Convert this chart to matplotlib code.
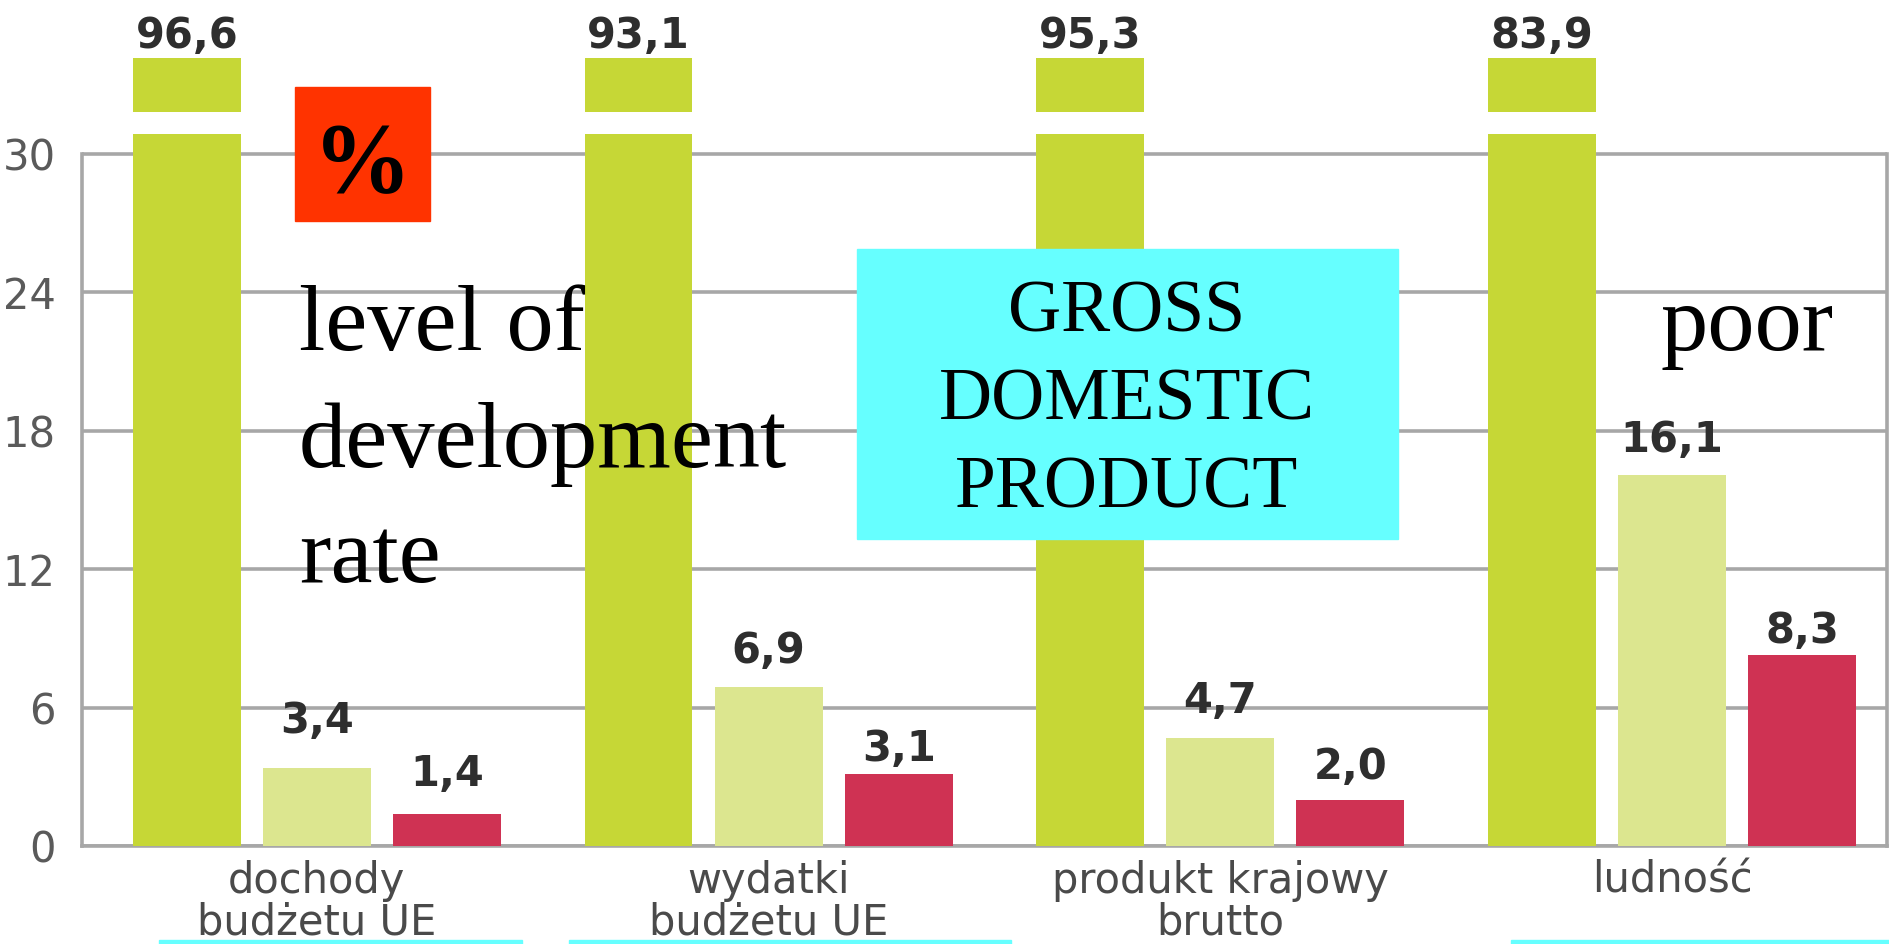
import matplotlib
matplotlib.use("Agg")
import matplotlib.pyplot as plt
from matplotlib.patches import Rectangle
import numpy as np

categoryLabels = ["dochody\nbudżetu UE", "wydatki\nbudżetu UE", "produkt krajowy\nbrutto", "ludność"]
greenValues = [96.6, 93.1, 95.3, 83.9]
lightValues = [3.4, 6.9, 4.7, 16.1]
redValues = [1.4, 3.1, 2.0, 8.3]
yTicks = [0, 6, 12, 18, 24, 30]

# gap (points) between bar top and label baseline, as placed in the original
lightGaps = [25, 17, 18, 16]
redGaps = [20, 10, 15, 8]

# where the tall bars are cut (axis units)
breakBottom = 30.86
breakTop = 31.82
capTop = 34.16

greenColor = "#c6d736"
lightColor = "#dce68f"
redColor = "#cf3253"
gridColor = "#a7a7a7"
labelColor = "#2e2e2e"

W, H = 1890, 944
fig = plt.figure(figsize=(W / 100, H / 100), dpi=100)
ax = fig.add_axes([82 / W, 98 / H, 1805 / W, 846 / H])
ax.set_xlim(-0.52, 3.476)
ax.set_ylim(0, 36.67)

positions = np.arange(len(categoryLabels))
barStep = 0.288
barWidth = 0.239


def fmt(value):
    return f"{value:.1f}".replace(".", ",")


def valueLabel(x, v, gap):
    ax.annotate(fmt(v), (x, v), xytext=(0, gap), textcoords="offset points",
                ha="center", va="baseline", fontsize=30, fontweight="bold", color=labelColor)


# green bars, drawn with a break
lowHeights = [min(v, breakBottom) for v in greenValues]
ax.bar(positions - barStep, lowHeights, barWidth, color=greenColor, zorder=3)
for i, v in enumerate(greenValues):
    if v > breakBottom:
        ax.bar(positions[i] - barStep, capTop - breakTop, barWidth, bottom=breakTop, color=greenColor, zorder=3)
        ax.text(positions[i] - barStep, 34.6, fmt(v), ha="center", va="baseline",
                fontsize=30, fontweight="bold", color=labelColor)
    else:
        valueLabel(positions[i] - barStep, v, 18)

ax.bar(positions, lightValues, barWidth, color=lightColor, zorder=3)
ax.bar(positions + barStep, redValues, barWidth, color=redColor, zorder=3)
for i in range(len(categoryLabels)):
    valueLabel(positions[i], lightValues[i], lightGaps[i])
    valueLabel(positions[i] + barStep, redValues[i], redGaps[i])

ax.set_yticks(yTicks)
ax.set_yticklabels([str(t) for t in yTicks], fontsize=30, color="#5a5a5a")
ax.yaxis.grid(True, color=gridColor, linewidth=2.6)
ax.set_axisbelow(True)
ax.tick_params(axis="y", length=0, pad=19)
ax.set_xticks(positions)
ax.set_xticklabels(categoryLabels, fontsize=30, color="#4a4a4a", linespacing=0.98)
ax.tick_params(axis="x", length=0, pad=10)

ax.spines["top"].set_visible(False)
for side in ["left", "right", "bottom"]:
    ax.spines[side].set_color(gridColor)
    ax.spines[side].set_linewidth(2.6)
ax.spines["left"].set_bounds(0, 30)
ax.spines["right"].set_bounds(0, 30)


# slide overlays
def figBox(x0, y0, x1, y1, color):
    fig.patches.append(Rectangle((x0 / W, 1 - y1 / H), (x1 - x0) / W, (y1 - y0) / H,
                                 transform=fig.transFigure, color=color, zorder=5))


figBox(295, 87, 430, 221, "#ff3300")
fig.text(362 / W, 1 - 191 / H, "%", ha="center", va="baseline", fontsize=71, fontweight="bold",
         family="Liberation Serif", color="black", zorder=6)

for line, base in zip(["level of", "development", "rate"], [350, 467, 582]):
    fig.text(299 / W, 1 - base / H, line, ha="left", va="baseline", fontsize=68,
             family="Liberation Serif", color="black", zorder=6)

figBox(857, 249, 1398, 539, "#66ffff")
for line, base in zip(["GROSS", "DOMESTIC", "PRODUCT"], [331, 420, 508]):
    fig.text(1127 / W, 1 - base / H, line, ha="center", va="baseline", fontsize=53,
             family="Liberation Serif", color="black", zorder=6)

fig.text(1661 / W, 1 - 350 / H, "poor", ha="left", va="baseline", fontsize=68,
         family="Liberation Serif", color="black", zorder=6)

for x0, x1 in [(159, 522), (569, 1011), (1511, 1890)]:
    figBox(x0, 940, x1, 944, "#66ffff")

fig.savefig("out.png", dpi=100)
